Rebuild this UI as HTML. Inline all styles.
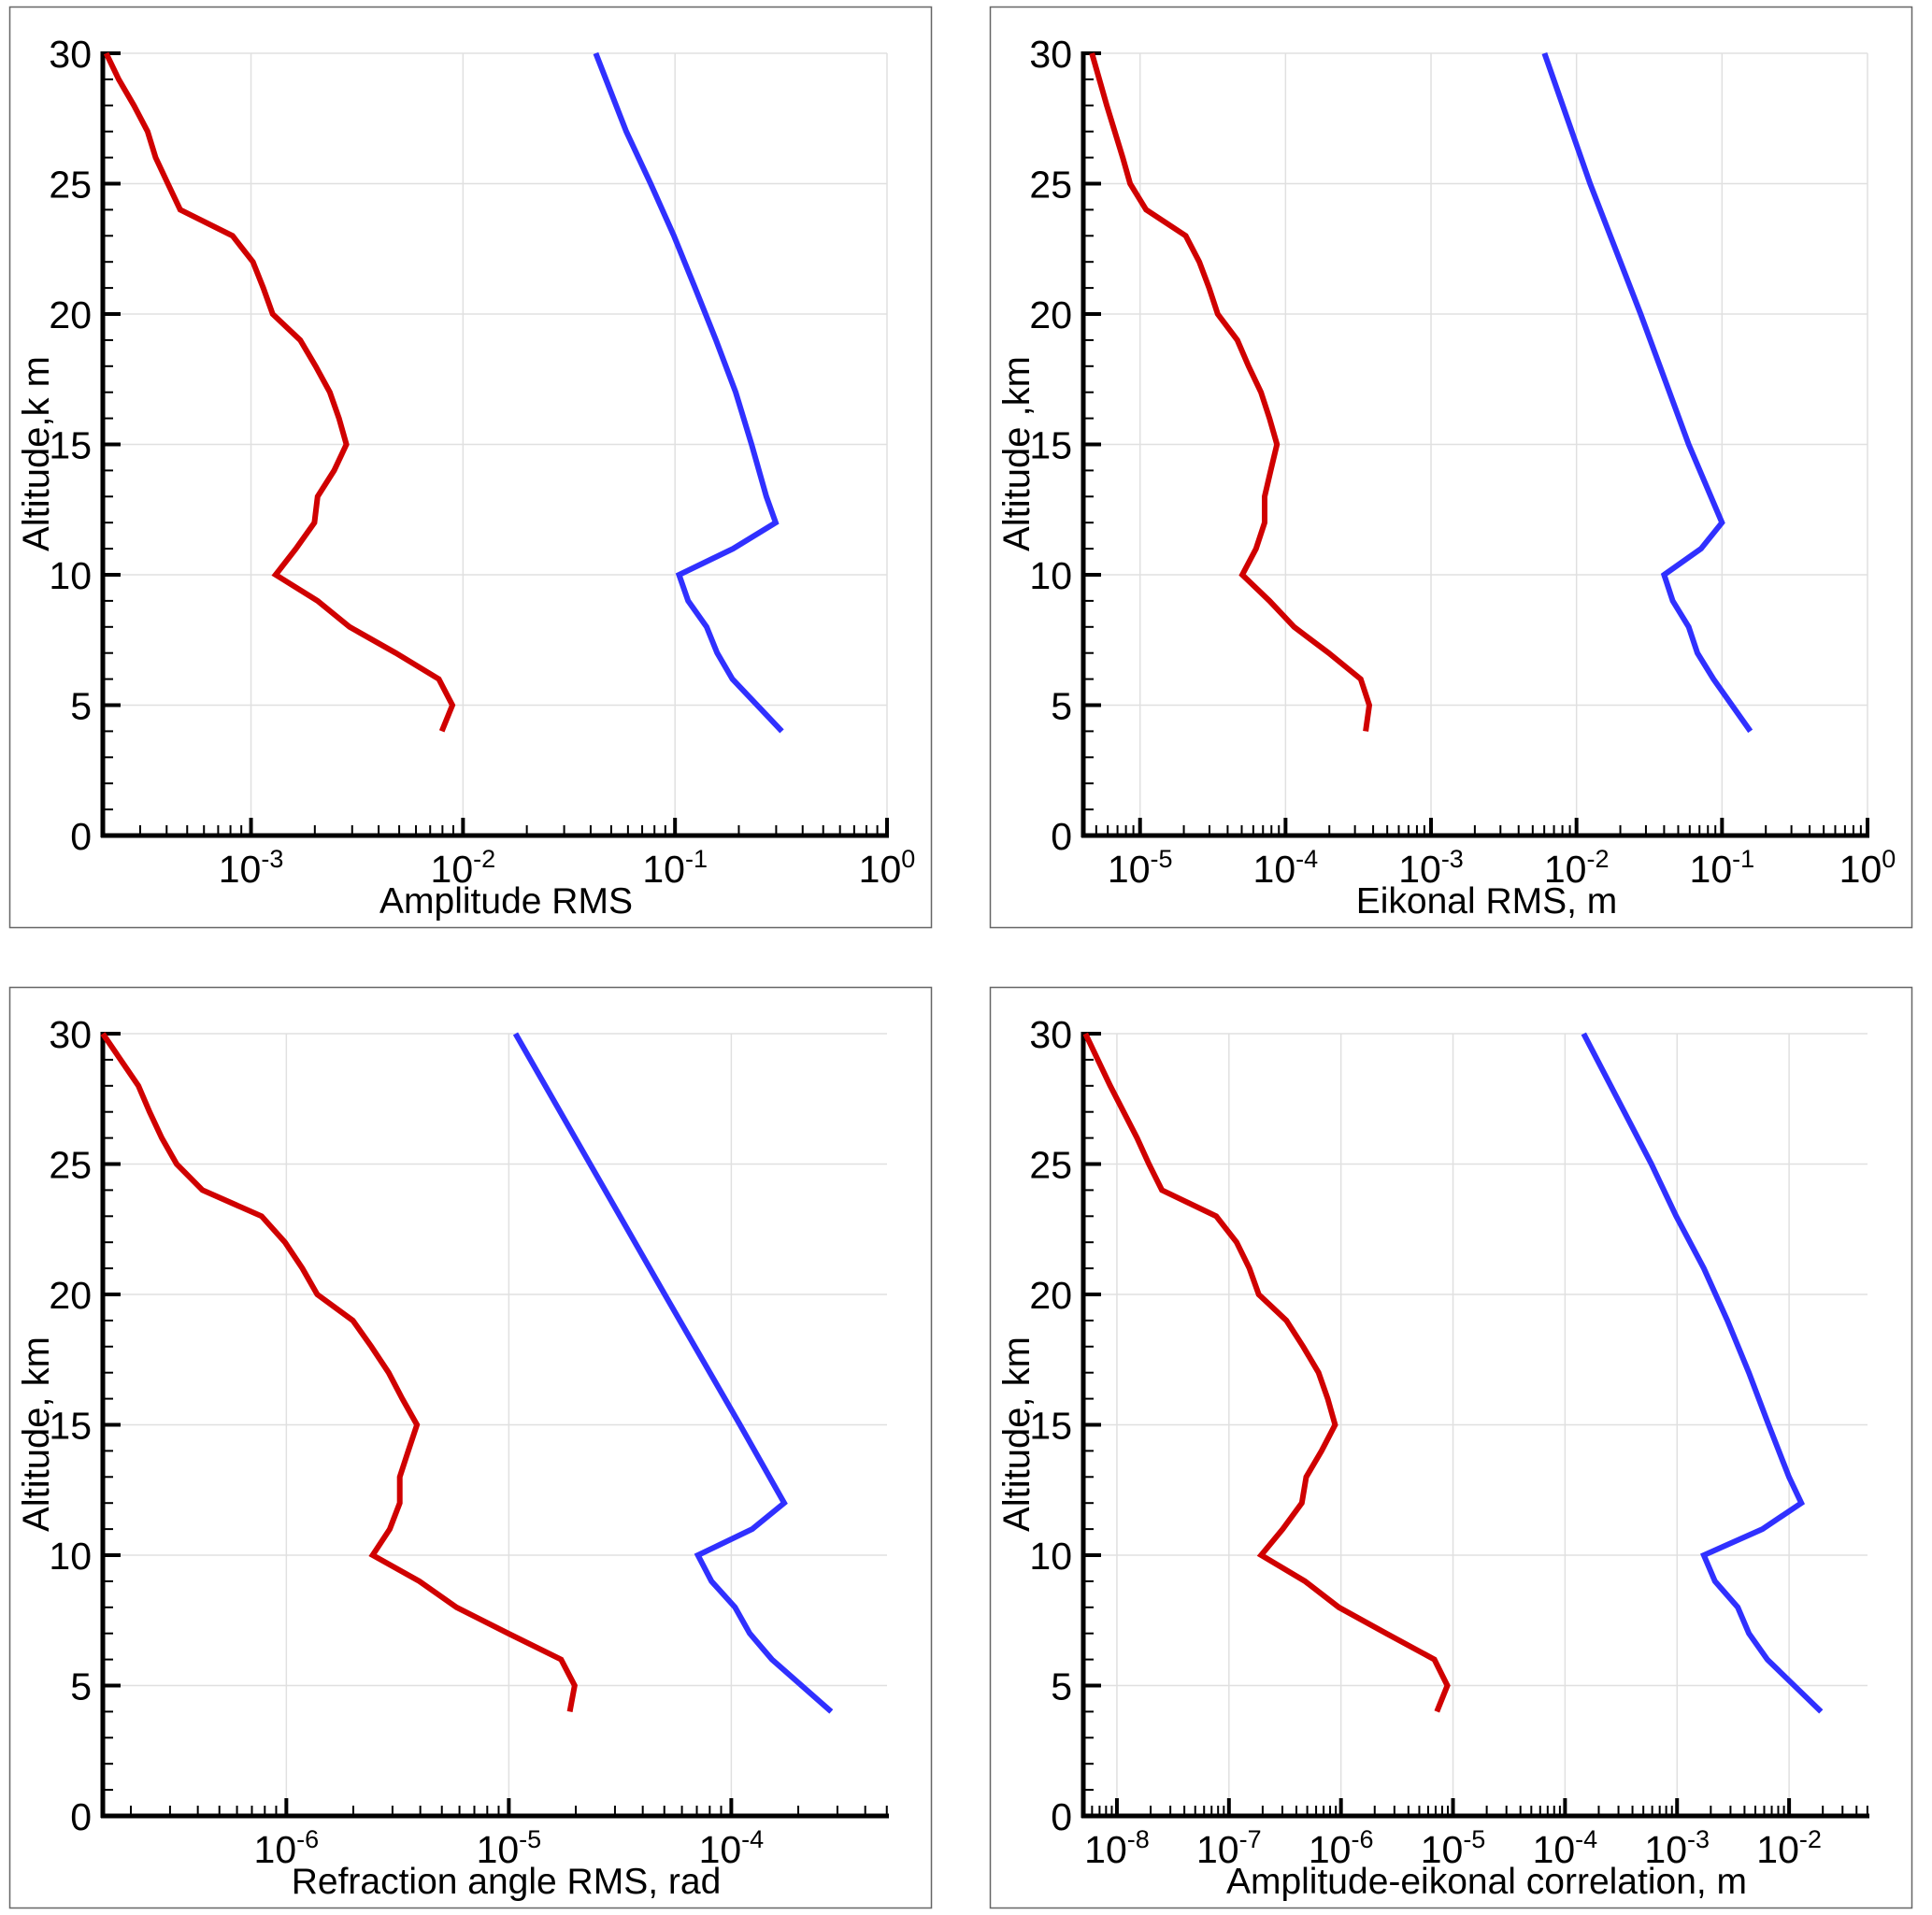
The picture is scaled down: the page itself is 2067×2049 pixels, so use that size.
<!DOCTYPE html>
<html><head><meta charset="utf-8"><style>
html,body{margin:0;padding:0;background:#fff;}
svg{display:block;}
text{font-family:"Liberation Sans",Arial,sans-serif;fill:#000;}
</style></head><body>
<svg id="fig" xmlns="http://www.w3.org/2000/svg" width="2067" height="2049" viewBox="0 0 2067 2049"></svg>
<script>
// Altitudes (km) and log10 values
const p1RedAlt=[30,29,28,27,26,25,24,23,22,21,20,19,18,17,16,15,14,13,12,11,10,9,8,7,6,5,4];
const p1RedLog=[-3.683,-3.624,-3.552,-3.488,-3.450,-3.392,-3.334,-3.087,-2.991,-2.942,-2.898,-2.768,-2.695,-2.628,-2.585,-2.550,-2.608,-2.686,-2.701,-2.788,-2.884,-2.686,-2.535,-2.317,-2.114,-2.050,-2.100];
const p1BlueAlt=[30,27,25,23,21,19,17,15,13,12,11,10,9,8,7,6,4];
const p1BlueLog=[-1.374,-1.23,-1.115,-1.005,-0.905,-0.807,-0.714,-0.639,-0.569,-0.525,-0.726,-0.981,-0.938,-0.851,-0.801,-0.729,-0.496];

const p2RedAlt=[30,28,26,25,24,23,22,21,20,19,18,17,16,15,14,13,12,11,10,9,8,7,6,5,4];
const p2RedLog=[-5.331,-5.229,-5.119,-5.068,-4.958,-4.686,-4.593,-4.525,-4.466,-4.331,-4.254,-4.169,-4.110,-4.059,-4.102,-4.144,-4.144,-4.203,-4.297,-4.110,-3.941,-3.703,-3.483,-3.424,-3.449];
const p2BlueAlt=[30,25,20,15,12,11,10,9,8,7,6,4];
const p2BlueLog=[-2.220,-1.907,-1.559,-1.229,-1.0,-1.144,-1.398,-1.339,-1.229,-1.169,-1.059,-0.805];

const p3RedAlt=[30,28,27,26,25,24,23,22,21,20,19,18,17,16,15,14,13,12,11,10,9,8,7,6,5,4];
const p3RedLog=[-6.825,-6.665,-6.615,-6.56,-6.493,-6.377,-6.111,-6.006,-5.928,-5.861,-5.701,-5.618,-5.540,-5.479,-5.413,-5.452,-5.490,-5.490,-5.535,-5.612,-5.402,-5.235,-5.003,-4.765,-4.704,-4.726];
const p3BlueAlt=[30,20,15,12,11,10,9,8,7,6,4];
const p3BlueLog=[-4.970,-4.299,-3.961,-3.762,-3.906,-4.150,-4.089,-3.983,-3.917,-3.817,-3.551];

const p4RedAlt=[30,28,26,25,24,23,22,21,20,19,18,17,16,15,14,13,12,11,10,9,8,7,6,5,4];
const p4RedLog=[-8.281,-8.06,-7.82,-7.714,-7.598,-7.114,-6.932,-6.817,-6.734,-6.487,-6.338,-6.200,-6.118,-6.052,-6.173,-6.310,-6.349,-6.520,-6.712,-6.321,-6.019,-5.595,-5.166,-5.050,-5.144];
const p4BlueAlt=[30,25,23,21,19,17,15,13,12,11,10,9,8,7,6,4];
const p4BlueLog=[-3.834,-3.229,-3.008,-2.761,-2.551,-2.359,-2.183,-2.001,-1.891,-2.238,-2.761,-2.662,-2.458,-2.359,-2.194,-1.715];

const yTicks=[0,5,10,15,20,25,30];
const p1Decades=[-3,-2,-1,0];
const p2Decades=[-5,-4,-3,-2,-1,0];
const p3Decades=[-6,-5,-4];
const p4Decades=[-8,-7,-6,-5,-4,-3,-2];

const NS="http://www.w3.org/2000/svg";
const svg=document.getElementById('fig');
function mk(tag,attrs,parent){const e=document.createElementNS(NS,tag);for(const k in attrs)e.setAttribute(k,attrs[k]);(parent||svg).appendChild(e);return e;}

const panels=[
 {ox:10,oy:7,xmin:-3.699,xmax:0,dec:p1Decades,title:"Amplitude RMS",ylab:"Altitude,k m",red:[p1RedAlt,p1RedLog],blue:[p1BlueAlt,p1BlueLog],name:"amplitude-rms"},
 {ox:1059,oy:7,xmin:-5.39,xmax:0,dec:p2Decades,title:"Eikonal RMS, m",ylab:"Altitude ,km",red:[p2RedAlt,p2RedLog],blue:[p2BlueAlt,p2BlueLog],name:"eikonal-rms"},
 {ox:10,oy:1056,xmin:-6.825,xmax:-3.30,dec:p3Decades,title:"Refraction angle RMS, rad",ylab:"Altitude, km",red:[p3RedAlt,p3RedLog],blue:[p3BlueAlt,p3BlueLog],name:"refraction-rms"},
 {ox:1059,oy:1056,xmin:-8.3,xmax:-1.3,dec:p4Decades,title:"Amplitude-eikonal correlation, m",ylab:"Altitude, km",red:[p4RedAlt,p4RedLog],blue:[p4BlueAlt,p4BlueLog],name:"amp-eikonal-correlation"}
];

panels.forEach(p=>{
 const g=mk('g',{transform:`translate(${p.ox},${p.oy})`});
 
 
 mk('rect',{x:0.5,y:0.5,width:986,height:985,fill:'#fff',stroke:'#666','stroke-width':1.5},g);
 const L=100,R=939,T=50,B=887;
 const sx=v=>L+(v-p.xmin)/(p.xmax-p.xmin)*(R-L);
 const sy=a=>B-(a/30)*(B-T);
 const grid=mk('g',{},g);
 
 
 yTicks.forEach(t=>{ if(t>0) mk('line',{x1:L,x2:R,y1:sy(t),y2:sy(t),stroke:'#e0e0e0','stroke-width':1.5},grid);});
 p.dec.forEach(d=>mk('line',{x1:sx(d),x2:sx(d),y1:T,y2:B,stroke:'#e0e0e0','stroke-width':1.5},grid));
 const xa=mk('g',{},g);
 
 
 for(let d=Math.floor(p.xmin);d<=Math.ceil(p.xmax);d++){
  for(let m=1;m<10;m++){
   const v=d+Math.log10(m);
   if(v<p.xmin-1e-6||v>p.xmax+1e-6)continue;
   const x=sx(v);
   if(m===1) mk('line',{x1:x,x2:x,y1:B,y2:B-19,stroke:'#000','stroke-width':4},xa);
   else mk('line',{x1:x,x2:x,y1:B,y2:B-11,stroke:'#000','stroke-width':2},xa);
  }
 }
 p.dec.forEach(d=>{
  const t=mk('text',{x:sx(d),y:937,'font-size':41,'text-anchor':'middle'},xa);
  
  
  t.textContent='10';
  const s=mk('tspan',{'font-size':27,dy:-16},t); s.textContent=String(d);
 });
 mk('line',{x1:L-2,x2:R+2,y1:B,y2:B,stroke:'#000','stroke-width':5},xa);
 const xt=mk('text',{x:(L+R)/2+12,y:970,'font-size':39,'text-anchor':'middle'},g);
 
 
 xt.textContent=p.title;
 const ya=mk('g',{},g);
 
 
 for(let a=0;a<=30;a++){
  const y=sy(a);
  if(a%5===0) mk('line',{x1:L,x2:L+19,y1:y,y2:y,stroke:'#000','stroke-width':4},ya);
  else mk('line',{x1:L,x2:L+11,y1:y,y2:y,stroke:'#000','stroke-width':2},ya);
 }
 yTicks.forEach(t=>{
  const e=mk('text',{x:88,y:sy(t)+15,'font-size':41,'text-anchor':'end'},ya);
  
  
  e.textContent=String(t);
 });
 mk('line',{x1:L,x2:L,y1:T-2,y2:B+2,stroke:'#000','stroke-width':5},ya);
 const yt=mk('text',{x:0,y:0,'font-size':40,'text-anchor':'middle',transform:`translate(42,${(T+B)/2+10}) rotate(-90)`},g);
 
 
 yt.textContent=p.ylab;
 const line=(alt,lg,col,nm)=>{
  const pts=alt.map((a,i)=>sx(lg[i]).toFixed(1)+','+sy(a).toFixed(1)).join(' ');
  const pl=mk('polyline',{points:pts,fill:'none',stroke:col,'stroke-width':6,'stroke-linejoin':'miter'},g);
  
  
 };
 line(p.red[0],p.red[1],'#d00000','red-series-line');
 line(p.blue[0],p.blue[1],'#3030ff','blue-series-line');
});
</script>
</body></html>
